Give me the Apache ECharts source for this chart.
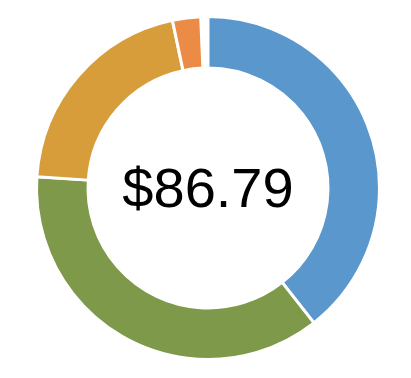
<!DOCTYPE html>
<html><head><meta charset="utf-8">
<script src="https://cdn.jsdelivr.net/npm/echarts@6/dist/echarts.min.js"></script>
<style>html,body{margin:0;padding:0;background:#fff}#c{width:411px;height:378px}</style>
</head><body><div id="c"></div>
<script>
const categories = ['A', 'B', 'C', 'D', 'rest'];
const values = [34.2, 31.8, 17.9, 2.3, 0.59];
const colors = ['#5a97cd', '#7e994a', '#d69d3a', '#ec8b46', 'rgba(0,0,0,0)'];
const centerLabel = '$86.79';

const chart = echarts.init(document.getElementById('c'));
chart.setOption({
  animation: false,
  series: [{
    type: 'pie',
    center: [208, 188],
    radius: [120, 171.5],
    startAngle: 90,
    clockwise: true,
    label: { show: false },
    labelLine: { show: false },
    emphasis: { disabled: true },
    data: categories.map((c, i) => ({
      name: c, value: values[i],
      itemStyle: { color: colors[i], borderColor: i === 4 ? 'rgba(0,0,0,0)' : '#fff', borderWidth: i === 4 ? 0 : 3 }
    }))
  }],
  graphic: [{
    type: 'text', x: 208, y: 192,
    style: { text: centerLabel, font: '56px "Liberation Sans", Arial, sans-serif', fill: '#000', align: 'center', verticalAlign: 'middle' }
  }]
});
</script></body></html>
